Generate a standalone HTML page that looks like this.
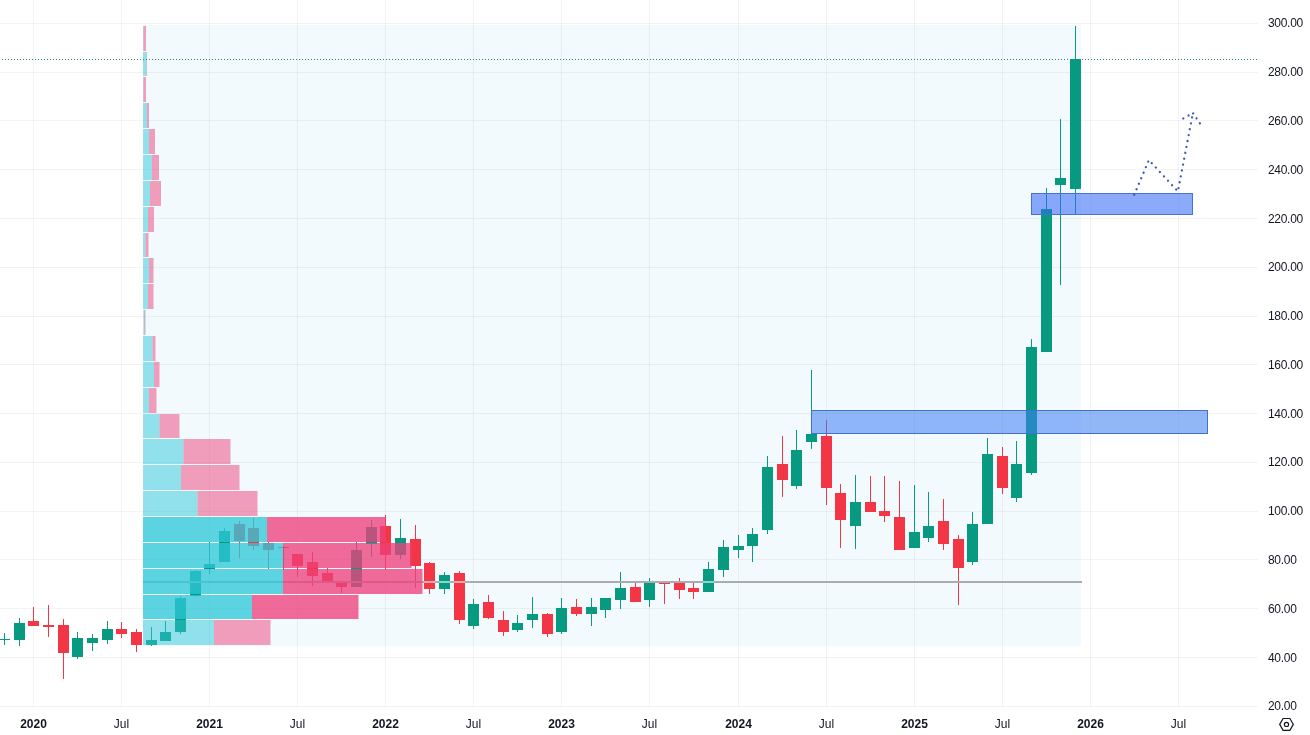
<!DOCTYPE html>
<html><head><meta charset="utf-8"><title>MU chart</title>
<style>
html,body{margin:0;padding:0;background:#fff;}
body{width:1310px;height:735px;position:relative;overflow:hidden;font-family:"Liberation Sans",sans-serif;color:#131722;}
.p{position:absolute;left:1268px;height:16px;line-height:16px;font-size:12px;letter-spacing:-0.3px;white-space:nowrap;}
.t{position:absolute;top:716px;width:60px;text-align:center;height:16px;line-height:16px;font-size:12px;white-space:nowrap;}
.t.y{font-weight:bold;}
.ico{position:absolute;left:1278px;top:716px;}
</style></head><body>
<svg width="1310" height="735" viewBox="0 0 1310 735" shape-rendering="crispEdges" style="position:absolute;left:0;top:0">
<rect x="143" y="25" width="938" height="621" fill="#f3fafe"/>
<rect x="0" y="23" width="1258" height="1" fill="rgba(42,46,57,0.06)"/>
<rect x="0" y="72" width="1258" height="1" fill="rgba(42,46,57,0.06)"/>
<rect x="0" y="120" width="1258" height="1" fill="rgba(42,46,57,0.06)"/>
<rect x="0" y="169" width="1258" height="1" fill="rgba(42,46,57,0.06)"/>
<rect x="0" y="218" width="1258" height="1" fill="rgba(42,46,57,0.06)"/>
<rect x="0" y="267" width="1258" height="1" fill="rgba(42,46,57,0.06)"/>
<rect x="0" y="316" width="1258" height="1" fill="rgba(42,46,57,0.06)"/>
<rect x="0" y="364" width="1258" height="1" fill="rgba(42,46,57,0.06)"/>
<rect x="0" y="413" width="1258" height="1" fill="rgba(42,46,57,0.06)"/>
<rect x="0" y="462" width="1258" height="1" fill="rgba(42,46,57,0.06)"/>
<rect x="0" y="511" width="1258" height="1" fill="rgba(42,46,57,0.06)"/>
<rect x="0" y="559" width="1258" height="1" fill="rgba(42,46,57,0.06)"/>
<rect x="0" y="608" width="1258" height="1" fill="rgba(42,46,57,0.06)"/>
<rect x="0" y="657" width="1258" height="1" fill="rgba(42,46,57,0.06)"/>
<rect x="0" y="706" width="1258" height="1" fill="rgba(42,46,57,0.06)"/>
<rect x="33" y="0" width="1" height="707" fill="rgba(42,46,57,0.06)"/>
<rect x="121" y="0" width="1" height="707" fill="rgba(42,46,57,0.06)"/>
<rect x="209" y="0" width="1" height="707" fill="rgba(42,46,57,0.06)"/>
<rect x="297" y="0" width="1" height="707" fill="rgba(42,46,57,0.06)"/>
<rect x="385" y="0" width="1" height="707" fill="rgba(42,46,57,0.06)"/>
<rect x="473" y="0" width="1" height="707" fill="rgba(42,46,57,0.06)"/>
<rect x="561" y="0" width="1" height="707" fill="rgba(42,46,57,0.06)"/>
<rect x="649" y="0" width="1" height="707" fill="rgba(42,46,57,0.06)"/>
<rect x="738" y="0" width="1" height="707" fill="rgba(42,46,57,0.06)"/>
<rect x="826" y="0" width="1" height="707" fill="rgba(42,46,57,0.06)"/>
<rect x="914" y="0" width="1" height="707" fill="rgba(42,46,57,0.06)"/>
<rect x="1002" y="0" width="1" height="707" fill="rgba(42,46,57,0.06)"/>
<rect x="1090" y="0" width="1" height="707" fill="rgba(42,46,57,0.06)"/>
<rect x="1178" y="0" width="1" height="707" fill="rgba(42,46,57,0.06)"/>
<rect x="4" y="633" width="1" height="12" fill="#089981"/>
<rect x="-1" y="639" width="11" height="1" fill="#089981"/>
<rect x="19" y="618" width="1" height="28" fill="#089981"/>
<rect x="14" y="623" width="11" height="17" fill="#089981"/>
<rect x="33" y="607" width="1" height="19" fill="#f23645"/>
<rect x="28" y="621" width="11" height="5" fill="#f23645"/>
<rect x="48" y="605" width="1" height="32" fill="#f23645"/>
<rect x="43" y="625" width="11" height="2" fill="#f23645"/>
<rect x="63" y="619" width="1" height="60" fill="#f23645"/>
<rect x="58" y="625" width="11" height="28" fill="#f23645"/>
<rect x="77" y="632" width="1" height="27" fill="#089981"/>
<rect x="72" y="638" width="11" height="19" fill="#089981"/>
<rect x="92" y="634" width="1" height="17" fill="#089981"/>
<rect x="87" y="638" width="11" height="5" fill="#089981"/>
<rect x="107" y="621" width="1" height="23" fill="#089981"/>
<rect x="102" y="629" width="11" height="11" fill="#089981"/>
<rect x="121" y="622" width="1" height="16" fill="#f23645"/>
<rect x="116" y="629" width="11" height="5" fill="#f23645"/>
<rect x="136" y="629" width="1" height="23" fill="#f23645"/>
<rect x="131" y="632" width="11" height="13" fill="#f23645"/>
<rect x="151" y="627" width="1" height="19" fill="#089981"/>
<rect x="146" y="640" width="11" height="5" fill="#089981"/>
<rect x="165" y="621" width="1" height="20" fill="#089981"/>
<rect x="160" y="632" width="11" height="9" fill="#089981"/>
<rect x="180" y="596" width="1" height="38" fill="#089981"/>
<rect x="175" y="598" width="11" height="34" fill="#089981"/>
<rect x="195" y="570" width="1" height="27" fill="#089981"/>
<rect x="190" y="571" width="11" height="25" fill="#089981"/>
<rect x="209" y="542" width="1" height="32" fill="#089981"/>
<rect x="204" y="564" width="11" height="5" fill="#089981"/>
<rect x="224" y="528" width="1" height="34" fill="#089981"/>
<rect x="219" y="531" width="11" height="31" fill="#089981"/>
<rect x="239" y="521" width="1" height="37" fill="#f23645"/>
<rect x="234" y="524" width="11" height="17" fill="#f23645"/>
<rect x="253" y="518" width="1" height="32" fill="#f23645"/>
<rect x="248" y="528" width="11" height="18" fill="#f23645"/>
<rect x="268" y="542" width="1" height="27" fill="#f23645"/>
<rect x="263" y="543" width="11" height="7" fill="#f23645"/>
<rect x="283" y="546" width="1" height="24" fill="#f23645"/>
<rect x="278" y="547" width="11" height="1" fill="#f23645"/>
<rect x="297" y="554" width="1" height="23" fill="#f23645"/>
<rect x="292" y="554" width="11" height="12" fill="#f23645"/>
<rect x="312" y="552" width="1" height="34" fill="#f23645"/>
<rect x="307" y="562" width="11" height="14" fill="#f23645"/>
<rect x="327" y="568" width="1" height="13" fill="#f23645"/>
<rect x="322" y="573" width="11" height="8" fill="#f23645"/>
<rect x="341" y="581" width="1" height="12" fill="#f23645"/>
<rect x="336" y="583" width="11" height="4" fill="#f23645"/>
<rect x="356" y="542" width="1" height="45" fill="#089981"/>
<rect x="351" y="550" width="11" height="37" fill="#089981"/>
<rect x="371" y="520" width="1" height="37" fill="#089981"/>
<rect x="366" y="527" width="11" height="17" fill="#089981"/>
<rect x="385" y="515" width="1" height="55" fill="#f23645"/>
<rect x="380" y="526" width="11" height="29" fill="#f23645"/>
<rect x="400" y="519" width="1" height="40" fill="#089981"/>
<rect x="395" y="538" width="11" height="17" fill="#089981"/>
<rect x="415" y="525" width="1" height="63" fill="#f23645"/>
<rect x="410" y="539" width="11" height="27" fill="#f23645"/>
<rect x="429" y="562" width="1" height="32" fill="#f23645"/>
<rect x="424" y="563" width="11" height="26" fill="#f23645"/>
<rect x="444" y="572" width="1" height="22" fill="#089981"/>
<rect x="439" y="575" width="11" height="14" fill="#089981"/>
<rect x="459" y="571" width="1" height="53" fill="#f23645"/>
<rect x="454" y="573" width="11" height="47" fill="#f23645"/>
<rect x="473" y="599" width="1" height="30" fill="#089981"/>
<rect x="468" y="604" width="11" height="22" fill="#089981"/>
<rect x="488" y="595" width="1" height="24" fill="#f23645"/>
<rect x="483" y="602" width="11" height="16" fill="#f23645"/>
<rect x="503" y="611" width="1" height="25" fill="#f23645"/>
<rect x="498" y="620" width="11" height="12" fill="#f23645"/>
<rect x="517" y="615" width="1" height="17" fill="#089981"/>
<rect x="512" y="623" width="11" height="7" fill="#089981"/>
<rect x="532" y="597" width="1" height="31" fill="#089981"/>
<rect x="527" y="614" width="11" height="6" fill="#089981"/>
<rect x="547" y="613" width="1" height="24" fill="#f23645"/>
<rect x="542" y="614" width="11" height="20" fill="#f23645"/>
<rect x="561" y="598" width="1" height="36" fill="#089981"/>
<rect x="556" y="608" width="11" height="24" fill="#089981"/>
<rect x="576" y="599" width="1" height="17" fill="#f23645"/>
<rect x="571" y="607" width="11" height="7" fill="#f23645"/>
<rect x="591" y="598" width="1" height="28" fill="#089981"/>
<rect x="586" y="607" width="11" height="7" fill="#089981"/>
<rect x="605" y="598" width="1" height="20" fill="#089981"/>
<rect x="600" y="598" width="11" height="12" fill="#089981"/>
<rect x="620" y="572" width="1" height="37" fill="#089981"/>
<rect x="615" y="588" width="11" height="12" fill="#089981"/>
<rect x="635" y="582" width="1" height="20" fill="#f23645"/>
<rect x="630" y="587" width="11" height="15" fill="#f23645"/>
<rect x="649" y="578" width="1" height="29" fill="#089981"/>
<rect x="644" y="583" width="11" height="17" fill="#089981"/>
<rect x="664" y="582" width="1" height="22" fill="#f23645"/>
<rect x="659" y="582" width="11" height="2" fill="#f23645"/>
<rect x="679" y="578" width="1" height="21" fill="#f23645"/>
<rect x="674" y="583" width="11" height="7" fill="#f23645"/>
<rect x="693" y="582" width="1" height="17" fill="#f23645"/>
<rect x="688" y="588" width="11" height="4" fill="#f23645"/>
<rect x="708" y="562" width="1" height="30" fill="#089981"/>
<rect x="703" y="569" width="11" height="23" fill="#089981"/>
<rect x="723" y="540" width="1" height="37" fill="#089981"/>
<rect x="718" y="547" width="11" height="23" fill="#089981"/>
<rect x="738" y="535" width="1" height="23" fill="#089981"/>
<rect x="733" y="546" width="11" height="4" fill="#089981"/>
<rect x="752" y="528" width="1" height="34" fill="#089981"/>
<rect x="747" y="534" width="11" height="12" fill="#089981"/>
<rect x="767" y="456" width="1" height="78" fill="#089981"/>
<rect x="762" y="467" width="11" height="63" fill="#089981"/>
<rect x="782" y="436" width="1" height="61" fill="#f23645"/>
<rect x="777" y="464" width="11" height="16" fill="#f23645"/>
<rect x="796" y="430" width="1" height="59" fill="#089981"/>
<rect x="791" y="450" width="11" height="36" fill="#089981"/>
<rect x="811" y="370" width="1" height="79" fill="#089981"/>
<rect x="806" y="434" width="11" height="8" fill="#089981"/>
<rect x="826" y="420" width="1" height="85" fill="#f23645"/>
<rect x="821" y="436" width="11" height="52" fill="#f23645"/>
<rect x="840" y="484" width="1" height="64" fill="#f23645"/>
<rect x="835" y="493" width="11" height="27" fill="#f23645"/>
<rect x="855" y="475" width="1" height="74" fill="#089981"/>
<rect x="850" y="502" width="11" height="24" fill="#089981"/>
<rect x="870" y="476" width="1" height="36" fill="#f23645"/>
<rect x="865" y="502" width="11" height="10" fill="#f23645"/>
<rect x="884" y="476" width="1" height="46" fill="#f23645"/>
<rect x="879" y="511" width="11" height="5" fill="#f23645"/>
<rect x="899" y="481" width="1" height="69" fill="#f23645"/>
<rect x="894" y="517" width="11" height="33" fill="#f23645"/>
<rect x="914" y="485" width="1" height="63" fill="#089981"/>
<rect x="909" y="532" width="11" height="16" fill="#089981"/>
<rect x="928" y="492" width="1" height="50" fill="#089981"/>
<rect x="923" y="526" width="11" height="12" fill="#089981"/>
<rect x="943" y="499" width="1" height="51" fill="#f23645"/>
<rect x="938" y="521" width="11" height="23" fill="#f23645"/>
<rect x="958" y="535" width="1" height="70" fill="#f23645"/>
<rect x="953" y="539" width="11" height="29" fill="#f23645"/>
<rect x="972" y="512" width="1" height="53" fill="#089981"/>
<rect x="967" y="524" width="11" height="38" fill="#089981"/>
<rect x="987" y="438" width="1" height="86" fill="#089981"/>
<rect x="982" y="454" width="11" height="70" fill="#089981"/>
<rect x="1002" y="447" width="1" height="47" fill="#f23645"/>
<rect x="997" y="456" width="11" height="32" fill="#f23645"/>
<rect x="1016" y="441" width="1" height="61" fill="#089981"/>
<rect x="1011" y="464" width="11" height="34" fill="#089981"/>
<rect x="1031" y="339" width="1" height="136" fill="#089981"/>
<rect x="1026" y="347" width="11" height="126" fill="#089981"/>
<rect x="1046" y="188" width="1" height="164" fill="#089981"/>
<rect x="1041" y="209" width="11" height="143" fill="#089981"/>
<rect x="1060" y="119" width="1" height="166" fill="#089981"/>
<rect x="1055" y="178" width="11" height="7" fill="#089981"/>
<rect x="1075" y="26" width="1" height="189" fill="#089981"/>
<rect x="1070" y="59" width="11" height="130" fill="#089981"/>
<rect x="143" y="581" width="939" height="2" fill="#a9adad"/>
<rect x="143" y="26" width="0.4000000000000057" height="25" fill="rgba(47,200,217,0.5)" shape-rendering="auto"/>
<rect x="143.4" y="26" width="2.5999999999999943" height="25" fill="rgba(237,64,122,0.5)" shape-rendering="auto"/>
<rect x="143" y="52" width="3.5" height="24" fill="rgba(47,200,217,0.5)" shape-rendering="auto"/>
<rect x="146.5" y="52" width="0.5" height="24" fill="rgba(237,64,122,0.5)" shape-rendering="auto"/>
<rect x="143" y="77" width="0.4000000000000057" height="25" fill="rgba(47,200,217,0.5)" shape-rendering="auto"/>
<rect x="143.4" y="77" width="2.5999999999999943" height="25" fill="rgba(237,64,122,0.5)" shape-rendering="auto"/>
<rect x="143" y="103" width="4" height="25" fill="rgba(47,200,217,0.5)" shape-rendering="auto"/>
<rect x="147" y="103" width="2" height="25" fill="rgba(237,64,122,0.5)" shape-rendering="auto"/>
<rect x="143" y="129" width="6" height="25" fill="rgba(47,200,217,0.5)" shape-rendering="auto"/>
<rect x="149" y="129" width="6" height="25" fill="rgba(237,64,122,0.5)" shape-rendering="auto"/>
<rect x="143" y="155" width="9" height="25" fill="rgba(47,200,217,0.5)" shape-rendering="auto"/>
<rect x="152" y="155" width="7" height="25" fill="rgba(237,64,122,0.5)" shape-rendering="auto"/>
<rect x="143" y="181" width="7" height="25" fill="rgba(47,200,217,0.5)" shape-rendering="auto"/>
<rect x="150" y="181" width="11" height="25" fill="rgba(237,64,122,0.5)" shape-rendering="auto"/>
<rect x="143" y="207" width="5" height="25" fill="rgba(47,200,217,0.5)" shape-rendering="auto"/>
<rect x="148" y="207" width="6" height="25" fill="rgba(237,64,122,0.5)" shape-rendering="auto"/>
<rect x="143" y="233" width="2.5" height="24" fill="rgba(47,200,217,0.5)" shape-rendering="auto"/>
<rect x="145.5" y="233" width="3.0" height="24" fill="rgba(237,64,122,0.5)" shape-rendering="auto"/>
<rect x="143" y="258" width="6" height="25" fill="rgba(47,200,217,0.5)" shape-rendering="auto"/>
<rect x="149" y="258" width="4.5" height="25" fill="rgba(237,64,122,0.5)" shape-rendering="auto"/>
<rect x="143" y="284" width="5" height="25" fill="rgba(47,200,217,0.5)" shape-rendering="auto"/>
<rect x="148" y="284" width="5.5" height="25" fill="rgba(237,64,122,0.5)" shape-rendering="auto"/>
<rect x="143.5" y="310" width="2" height="25" fill="rgba(120,130,150,0.5)" shape-rendering="auto"/>
<rect x="143" y="336" width="9.5" height="25" fill="rgba(47,200,217,0.5)" shape-rendering="auto"/>
<rect x="152.5" y="336" width="3.0" height="25" fill="rgba(237,64,122,0.5)" shape-rendering="auto"/>
<rect x="143" y="362" width="11" height="25" fill="rgba(47,200,217,0.5)" shape-rendering="auto"/>
<rect x="154" y="362" width="5.5" height="25" fill="rgba(237,64,122,0.5)" shape-rendering="auto"/>
<rect x="143" y="388" width="6" height="25" fill="rgba(47,200,217,0.5)" shape-rendering="auto"/>
<rect x="149" y="388" width="7.5" height="25" fill="rgba(237,64,122,0.5)" shape-rendering="auto"/>
<rect x="143" y="414" width="16.5" height="24" fill="rgba(47,200,217,0.5)" shape-rendering="auto"/>
<rect x="159.5" y="414" width="20.0" height="24" fill="rgba(237,64,122,0.5)" shape-rendering="auto"/>
<rect x="143" y="439" width="40.5" height="25" fill="rgba(47,200,217,0.5)" shape-rendering="auto"/>
<rect x="183.5" y="439" width="47.0" height="25" fill="rgba(237,64,122,0.5)" shape-rendering="auto"/>
<rect x="143" y="465" width="38" height="25" fill="rgba(47,200,217,0.5)" shape-rendering="auto"/>
<rect x="181" y="465" width="58.5" height="25" fill="rgba(237,64,122,0.5)" shape-rendering="auto"/>
<rect x="143" y="491" width="54.5" height="25" fill="rgba(47,200,217,0.5)" shape-rendering="auto"/>
<rect x="197.5" y="491" width="60.0" height="25" fill="rgba(237,64,122,0.5)" shape-rendering="auto"/>
<rect x="143" y="517" width="124" height="25" fill="rgba(47,200,217,0.775)" shape-rendering="auto"/>
<rect x="267" y="517" width="118.5" height="25" fill="rgba(237,64,122,0.775)" shape-rendering="auto"/>
<rect x="143" y="543" width="140" height="25" fill="rgba(47,200,217,0.775)" shape-rendering="auto"/>
<rect x="283" y="543" width="128.5" height="25" fill="rgba(237,64,122,0.775)" shape-rendering="auto"/>
<rect x="143" y="569" width="140" height="25" fill="rgba(47,200,217,0.775)" shape-rendering="auto"/>
<rect x="283" y="569" width="139.5" height="25" fill="rgba(237,64,122,0.775)" shape-rendering="auto"/>
<rect x="143" y="595" width="109" height="24" fill="rgba(47,200,217,0.775)" shape-rendering="auto"/>
<rect x="252" y="595" width="106.5" height="24" fill="rgba(237,64,122,0.775)" shape-rendering="auto"/>
<rect x="143" y="620" width="71" height="25" fill="rgba(47,200,217,0.5)" shape-rendering="auto"/>
<rect x="214" y="620" width="56.5" height="25" fill="rgba(237,64,122,0.5)" shape-rendering="auto"/>
<rect x="424" y="581" width="11" height="2" fill="#f4aaac"/>
<rect x="439" y="581" width="11" height="2" fill="#8cd6c8"/>
<rect x="454" y="581" width="11" height="2" fill="#f4aaac"/>
<rect x="703" y="581" width="11" height="2" fill="#8cd6c8"/>
<rect x="811.5" y="410.5" width="396" height="23" fill="rgba(61,127,240,0.56)" stroke="#4270cc" stroke-width="1" shape-rendering="auto"/>
<rect x="1031.5" y="193.5" width="161" height="21" fill="rgba(50,103,246,0.56)" stroke="#4a72cc" stroke-width="1" shape-rendering="auto"/>
<line x1="2" y1="59.5" x2="1258" y2="59.5" stroke="#2a8574" stroke-width="1" stroke-dasharray="1 2"/>
<g fill="none" stroke="#3d58b8" stroke-width="2.3" stroke-dasharray="0.01 5.99" shape-rendering="auto" stroke-linecap="round"><polyline points="1134.2,194.8 1148.9,160 1177.9,191.5 1192.9,113"/><polyline points="1199.9,123.3 1192.9,113"/><polyline points="1183.3,118.4 1192.9,113"/></g>
</svg>
<div class="p" style="top:15.3px">300.00</div><div class="p" style="top:64.1px">280.00</div><div class="p" style="top:112.9px">260.00</div><div class="p" style="top:161.7px">240.00</div><div class="p" style="top:210.5px">220.00</div><div class="p" style="top:259.2px">200.00</div><div class="p" style="top:308.0px">180.00</div><div class="p" style="top:356.8px">160.00</div><div class="p" style="top:405.6px">140.00</div><div class="p" style="top:454.4px">120.00</div><div class="p" style="top:503.2px">100.00</div><div class="p" style="top:552.0px">80.00</div><div class="p" style="top:600.8px">60.00</div><div class="p" style="top:649.6px">40.00</div><div class="p" style="top:698.4px">20.00</div><div class="t y" style="left:3.5px">2020</div><div class="t" style="left:91.5px">Jul</div><div class="t y" style="left:179.5px">2021</div><div class="t" style="left:267.5px">Jul</div><div class="t y" style="left:355.5px">2022</div><div class="t" style="left:443.5px">Jul</div><div class="t y" style="left:531.5px">2023</div><div class="t" style="left:619.5px">Jul</div><div class="t y" style="left:708.5px">2024</div><div class="t" style="left:796.5px">Jul</div><div class="t y" style="left:884.5px">2025</div><div class="t" style="left:972.5px">Jul</div><div class="t y" style="left:1060.5px">2026</div><div class="t" style="left:1148.5px">Jul</div>
<svg class="ico" width="17" height="17" viewBox="0 0 17 17"><path d="M1.7 8.4 L5.1 2.5 L11.9 2.5 L15.3 8.4 L11.9 14.3 L5.1 14.3 Z" fill="none" stroke="#131722" stroke-width="1.2" stroke-linejoin="miter"/><circle cx="8.5" cy="8.4" r="2.1" fill="none" stroke="#131722" stroke-width="1.2"/></svg>
</body></html>
